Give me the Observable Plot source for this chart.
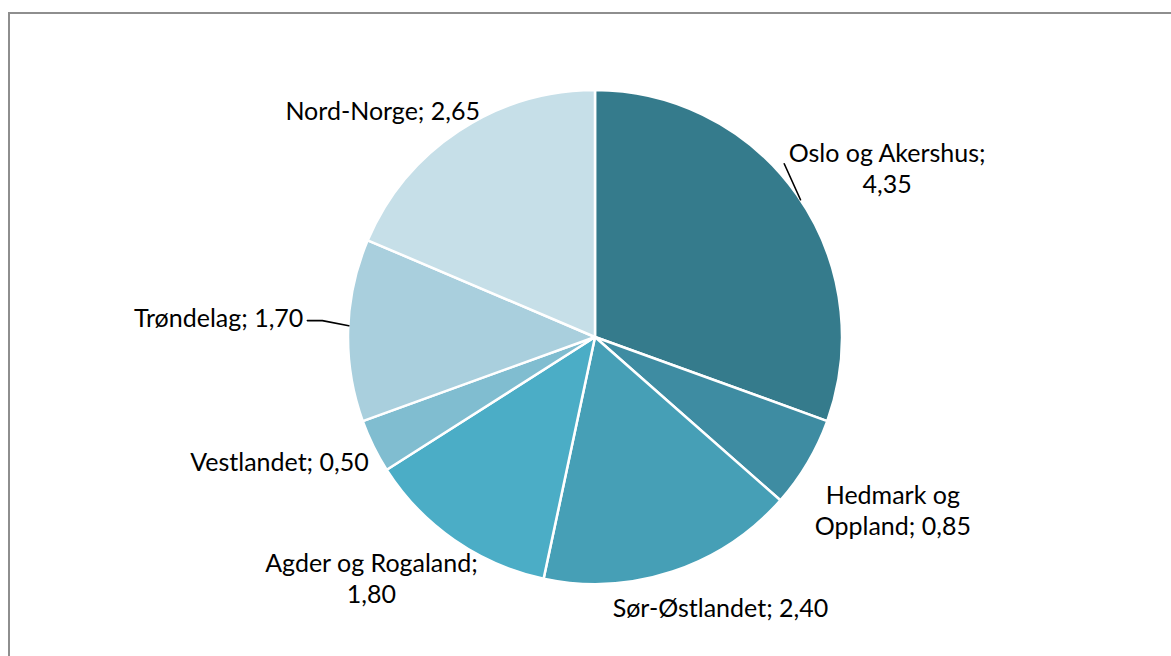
<!DOCTYPE html>
<html>
<head>
<meta charset="utf-8">
<script src="https://cdn.jsdelivr.net/npm/d3@7"></script>
<script src="https://cdn.jsdelivr.net/npm/@observablehq/plot@0.6"></script>
<style>
  html, body { margin: 0; padding: 0; background: #fff; overflow: hidden; }
  #wrap { position: relative; width: 1171px; height: 656px; overflow: hidden; }
  #frame { position: absolute; left: 8px; top: 12px; width: 1300px; height: 800px;
           border-left: 2px solid #8e8e8e; border-top: 2px solid #8e8e8e; }
  #chart { position: absolute; left: 0; top: 0; }
</style>
</head>
<body>
<div id="wrap"><div id="frame"></div><div id="chart"></div></div>
<script>
// ---- data ----
const categories = ["Oslo og Akershus", "Hedmark og Oppland", "Sør-Østlandet", "Agder og Rogaland", "Vestlandet", "Trøndelag", "Nord-Norge"];
const values = [4.35, 0.85, 2.40, 1.80, 0.50, 1.70, 2.65];
const labelNames = ["Oslo og Akershus;\n", "Hedmark og\nOppland; ", "Sør-Østlandet; ", "Agder og Rogaland;\n", "Vestlandet; ", "Trøndelag; ", "Nord-Norge; "];
const colors = ["#357b8c", "#3e8ca2", "#469fb6", "#4badc6", "#80bdd0", "#a9cfdd", "#c6dfe8"];
// label placement tweaks (distance beyond the rim, angular nudge in degrees)
const labelGap = [13, 32, 23, 21, 16, 46, 18];
const labelNudge = [-0.6, 3, -1, 2, 0, 2.3, -2.5];
const leader = [true, false, false, false, false, true, false];

// ---- layout ----
const W = 1171, H = 656, cx = 595, cy = 337, R = 247;
const fontSize = 25, fontFamily = "Lato", lineHeight = 1.25;

const fmt = v => v.toFixed(2).replace(".", ",");
const arcs = d3.pie().sort(null).value(d => d)(values);

const ctx = document.createElement("canvas").getContext("2d");
ctx.font = `${fontSize}px ${fontFamily}`;

const labels = arcs.map((a, i) => {
  const text = labelNames[i] + fmt(values[i]);
  const lines = text.split("\n");
  const w = d3.max(lines, l => ctx.measureText(l).width);
  const h = lines.length * fontSize * lineHeight;
  const mid = (a.startAngle + a.endAngle) / 2;
  const m = mid + labelNudge[i] * Math.PI / 180;
  const s = Math.sin(m), c = Math.cos(m);
  const rr = R + labelGap[i];
  const x = rr * s + (w / 2) * s;
  const y = -rr * c - (h / 2) * c;
  return {i, text, x, y, w, h, mid};
});

const leaderPts = [];
labels.forEach(l => {
  if (!leader[l.i]) return;
  const px = R * Math.sin(l.mid + 0.02), py = -R * Math.cos(l.mid + 0.02);
  const ex = l.x < px ? l.x + l.w / 2 + 4 : l.x - l.w / 2 - 4;
  const ey = l.y + (l.x < px ? 4 : -4);
  leaderPts.push({id: l.i, x: ex, y: ey});
  if (Math.abs(px - ex) > 30) leaderPts.push({id: l.i, x: ex + Math.sign(px - ex) * 15, y: ey});
  leaderPts.push({id: l.i, x: px, y: py});
});

const pieMark = (index, scales) => {
  const x0 = scales.x(0), y0 = scales.y(0), rr = scales.x(R) - scales.x(0);
  const g = d3.create("svg:g").attr("transform", `translate(${x0},${y0})`);
  g.selectAll("path").data(arcs).join("path")
    .attr("d", d3.arc().innerRadius(0).outerRadius(rr))
    .attr("fill", (d, i) => colors[i])
    .attr("stroke", "#fff")
    .attr("stroke-width", 2.5)
    .attr("stroke-linejoin", "round");
  return g.node();
};

const plot = Plot.plot({
  width: W,
  height: H,
  margin: 0,
  style: {background: "transparent", fontFamily: fontFamily},
  x: {domain: [-cx, W - cx], range: [0, W], axis: null},
  y: {domain: [-cy, H - cy], range: [0, H], axis: null},
  marks: [
    pieMark,
    Plot.line(leaderPts, {x: "x", y: "y", z: "id", stroke: "#000", strokeWidth: 1.6}),
    Plot.text(labels, {x: "x", y: "y", text: "text", textAnchor: "middle", lineAnchor: "middle",
      fontSize: fontSize, fontFamily: fontFamily, fill: "#000", lineHeight: lineHeight})
  ]
});
document.getElementById("chart").appendChild(plot);
</script>
</body>
</html>
